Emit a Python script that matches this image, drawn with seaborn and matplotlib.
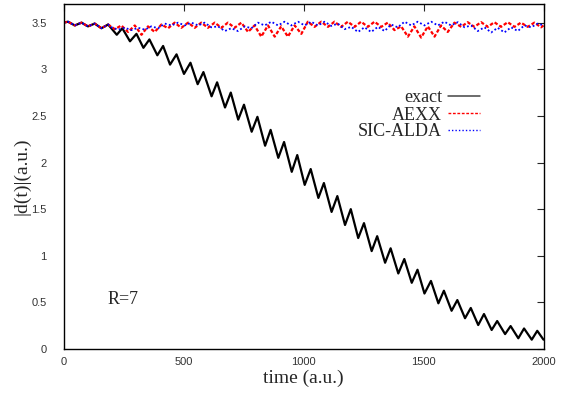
import matplotlib
matplotlib.use("Agg")
import matplotlib.pyplot as plt
from matplotlib.lines import Line2D
import seaborn as sns
import pandas as pd

# ---- data (time in a.u., |d(t)| in a.u.) ----
common_t = [0, 19, 47, 75, 102, 130, 158, 186]
common_d = [3.50, 3.51, 3.47, 3.50, 3.46, 3.49, 3.44, 3.48]

exact_t = [222, 245, 277, 304, 333, 358, 391, 415, 444, 471, 502, 529, 559, 583,
           617, 640, 673, 697, 728, 752, 784, 808, 840, 863, 895, 919, 951, 974,
           1005, 1030, 1062, 1085, 1117, 1141, 1173, 1197, 1228, 1252, 1284, 1307,
           1340, 1363, 1395, 1420, 1451, 1475, 1504, 1531, 1562, 1585, 1617, 1641,
           1673, 1697, 1728, 1752, 1784, 1807, 1840, 1863, 1895, 1919, 1951, 1974, 2000]
exact_d = [3.37, 3.44, 3.30, 3.38, 3.23, 3.32, 3.15, 3.25, 3.05, 3.16, 2.95, 3.07, 2.84, 2.97,
           2.71, 2.86, 2.59, 2.75, 2.46, 2.62, 2.33, 2.49, 2.18, 2.35, 2.05, 2.22, 1.90, 2.08,
           1.76, 1.93, 1.62, 1.78, 1.47, 1.64, 1.33, 1.50, 1.19, 1.35, 1.05, 1.21,
           0.925, 1.08, 0.81, 0.965, 0.71, 0.85, 0.595, 0.73, 0.49, 0.625, 0.41, 0.525,
           0.33, 0.44, 0.257, 0.375, 0.204, 0.30, 0.16, 0.246, 0.115, 0.22, 0.10, 0.195, 0.10]

aexx_t = [214, 241, 269, 297, 325, 352, 380, 408, 436, 463, 491, 519, 547, 574, 602, 630,
          658, 685, 713, 741, 769, 796, 824, 852, 880, 907, 935, 963, 991, 1018, 1046, 1074,
          1102, 1129, 1157, 1185, 1213, 1240, 1268, 1296, 1324, 1351, 1379, 1407, 1435, 1462,
          1490, 1518, 1546, 1573, 1601, 1629, 1657, 1684, 1712, 1740, 1768, 1795, 1823, 1851,
          1879, 1906, 1934, 1962, 1990, 2000]
aexx_d = [3.43, 3.47, 3.40, 3.47, 3.37, 3.46, 3.40, 3.48, 3.44, 3.50, 3.445, 3.50, 3.445, 3.50,
          3.445, 3.50, 3.445, 3.50, 3.445, 3.50, 3.40, 3.47, 3.35, 3.47, 3.35, 3.46, 3.35, 3.47,
          3.38, 3.51, 3.455, 3.51, 3.455, 3.51, 3.455, 3.51, 3.455, 3.51, 3.455, 3.51, 3.455,
          3.50, 3.42, 3.46, 3.35, 3.46, 3.34, 3.46, 3.35, 3.47, 3.40, 3.50, 3.455, 3.505,
          3.455, 3.505, 3.455, 3.505, 3.455, 3.505, 3.455, 3.50, 3.455, 3.50, 3.45, 3.47]

sic_t = [200, 228, 255, 283, 311, 339, 366, 394, 422, 450, 477, 505, 533, 561, 588, 616,
         644, 672, 699, 727, 755, 783, 810, 838, 866, 894, 921, 949, 977, 1005, 1032, 1060,
         1088, 1116, 1143, 1171, 1199, 1227, 1254, 1282, 1310, 1338, 1365, 1393, 1421, 1449,
         1476, 1504, 1532, 1560, 1587, 1615, 1643, 1671, 1698, 1726, 1754, 1782, 1809, 1837,
         1865, 1893, 1920, 1948, 1976, 2000]
sic_d = [3.45, 3.425, 3.445, 3.42, 3.445, 3.425, 3.46, 3.44, 3.49, 3.47, 3.50, 3.47, 3.50, 3.47,
         3.50, 3.45, 3.46, 3.41, 3.44, 3.41, 3.46, 3.44, 3.50, 3.47, 3.51, 3.47, 3.51, 3.47,
         3.51, 3.47, 3.51, 3.47, 3.51, 3.465, 3.49, 3.43, 3.455, 3.40, 3.45, 3.40, 3.455, 3.41,
         3.48, 3.45, 3.51, 3.47, 3.51, 3.47, 3.51, 3.47, 3.51, 3.47, 3.505, 3.45, 3.47, 3.41,
         3.45, 3.395, 3.445, 3.395, 3.45, 3.41, 3.47, 3.45, 3.49, 3.47]

labels = ["exact", "AEXX", "SIC-ALDA"]
x_ticks = [0, 500, 1000, 1500, 2000]
y_ticks = [0, 0.5, 1, 1.5, 2, 2.5, 3, 3.5]
y_tick_labels = ["0", "0.5", "1", "1.5", "2", "2.5", "3", "3.5"]

series = {
    "exact": (common_t + exact_t, common_d + exact_d),
    "AEXX": (common_t + aexx_t, common_d + aexx_d),
    "SIC-ALDA": (common_t + sic_t, common_d + sic_d),
}

sns.set_style("white")
plt.rcParams["font.family"] = ["Liberation Serif", "DejaVu Serif"]

fig = plt.figure(figsize=(5.69, 3.95), dpi=100)
ax = fig.add_axes([63.5 / 569, 1 - 349 / 395, 480 / 569, 345 / 395])

styles = {
    "exact": dict(color="black", lw=1.6, linestyle="-", solid_joinstyle="round"),
    "AEXX": dict(color="#ff0000", lw=1.6, linestyle=(0, (1.6, 0.9)), dash_joinstyle="round"),
    "SIC-ALDA": dict(color="#0000ff", lw=1.3, linestyle=(0, (1.0, 1.3))),
}

for name in labels:
    t, d = series[name]
    df = pd.DataFrame({"time": t, "d": d})
    sns.lineplot(data=df, x="time", y="d", ax=ax, sort=False, estimator=None,
                 label=name, **styles[name])

ax.set_xlim(0, 2000)
ax.set_ylim(0, 3.7)
ax.set_xticks(x_ticks)
ax.set_xticklabels([str(v) for v in x_ticks], family="Liberation Sans", fontsize=8, color="#333333")
ax.set_yticks(y_ticks)
ax.set_yticklabels(y_tick_labels, family="Liberation Sans", fontsize=8, color="#333333")
ax.tick_params(axis="both", direction="in", top=True, right=True, length=5, width=0.8)
ax.tick_params(axis="y", pad=12)
ax.tick_params(axis="x", pad=6)
for sp in ax.spines.values():
    sp.set_visible(True)
    sp.set_color("black")
    sp.set_linewidth(1.0)

ax.set_xlabel("time (a.u.)", fontsize=14, labelpad=2)
ax.set_ylabel("|d(t)|(a.u.)", fontsize=14, labelpad=1)

ax.text(185, 0.53, "R=7", fontsize=13, va="center", ha="left")

legend_handles = [
    Line2D([], [], color="#444444", lw=1.1, linestyle="-"),
    Line2D([], [], color="#ff0000", lw=1.0, linestyle=(0, (2.0, 1.2))),
    Line2D([], [], color="#0000ff", lw=1.0, linestyle=(0, (1.0, 1.5))),
]
ax.legend(legend_handles, labels, loc="center right", bbox_to_anchor=(489 / 569, 1 - 115 / 395),
          bbox_transform=fig.transFigure, frameon=False, markerfirst=False,
          fontsize=13, handlelength=1.75, handletextpad=0.35, labelspacing=0.0,
          borderpad=0)

fig.savefig("out.png", dpi=100)
